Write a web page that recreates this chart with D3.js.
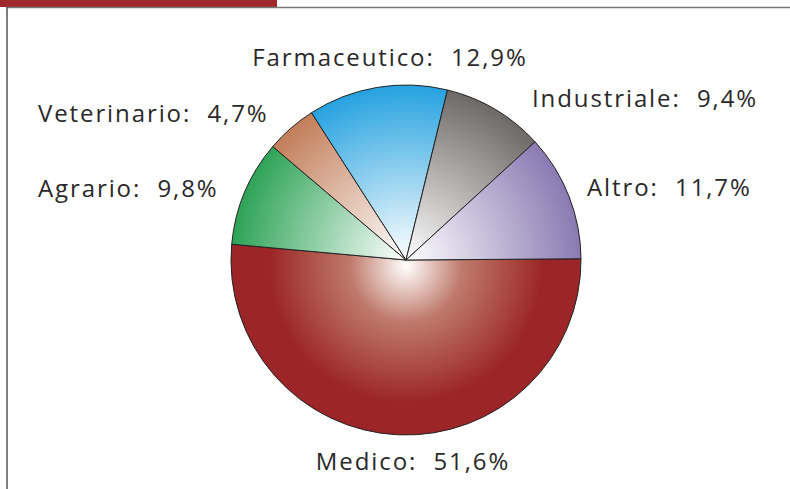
<!DOCTYPE html>
<html>
<head>
<meta charset="utf-8">
<script src="https://cdn.jsdelivr.net/npm/d3@7"></script>
<style>
  body { margin: 0; background: #fff; }
  svg { display: block; }
</style>
</head>
<body>
<script>
// data
var categories = ["Medico", "Agrario", "Veterinario", "Farmaceutico", "Industriale", "Altro"];
var shares = [51.6, 9.8, 4.7, 12.9, 9.4, 11.7];
var labels = ["Medico: 51,6%", "Agrario: 9,8%", "Veterinario: 4,7%", "Farmaceutico: 12,9%", "Industriale: 9,4%", "Altro: 11,7%"];
var colors = ["#9c2627", "#2ea357", "#c27e5a", "#26a2e0", "#6d6966", "#8a7ab2"];

var width = 790, height = 489;
var cx = 406, cy = 260, radius = 175;

// label placement (x, baseline, anchor)
var labelPos = [
  [413, 470, "middle"],
  [38, 197, "start"],
  [38, 122, "start"],
  [390, 66, "middle"],
  [532, 107, "start"],
  [587, 196, "start"]
];

var svg = d3.select("body").append("svg")
  .attr("width", width)
  .attr("height", height);

// header bar and frame
svg.append("rect").attr("x", 0).attr("y", 0).attr("width", 277).attr("height", 7).attr("fill", "#a0282a");
svg.append("line").attr("x1", 6).attr("x2", width).attr("y1", 7.5).attr("y2", 7.5)
  .attr("stroke", "#777").attr("stroke-width", 1.5);
svg.append("line").attr("x1", 7).attr("x2", 7).attr("y1", 7).attr("y2", height)
  .attr("stroke", "#555").attr("stroke-width", 1.5);

var defs = svg.append("defs");
categories.forEach(function(c, i) {
  var g = defs.append("radialGradient")
    .attr("id", "grad" + i)
    .attr("gradientUnits", "userSpaceOnUse")
    .attr("cx", 0).attr("cy", 0).attr("r", radius);
  if (i === 0) {
    // medico: small white highlight, warm mid tone, full red by ~3/4 radius
    g.attr("cy", 6);
    g.append("stop").attr("offset", "0%").attr("stop-color", "#fff");
    g.append("stop").attr("offset", "10%").attr("stop-color", "#ecd6d0");
    g.append("stop").attr("offset", "32%").attr("stop-color", "#bf7a6c");
    g.append("stop").attr("offset", "52%").attr("stop-color", "#b0564c");
    g.append("stop").attr("offset", "78%").attr("stop-color", colors[i]);
    g.append("stop").attr("offset", "100%").attr("stop-color", colors[i]);
  } else {
    g.append("stop").attr("offset", "0%").attr("stop-color", "#fff");
    g.append("stop").attr("offset", "100%").attr("stop-color", colors[i]);
  }
});

var pie = d3.pie()
  .sort(null)
  .value(function(d) { return d; })
  .startAngle(89.6 * Math.PI / 180)
  .endAngle(89.6 * Math.PI / 180 + 2 * Math.PI);

var arc = d3.arc().innerRadius(0).outerRadius(radius);

var chart = svg.append("g").attr("transform", "translate(" + cx + "," + cy + ")");

chart.selectAll("path")
  .data(pie(shares))
  .enter()
  .append("path")
  .attr("d", arc)
  .attr("fill", function(d, i) { return "url(#grad" + i + ")"; })
  .attr("stroke", "#222")
  .attr("stroke-width", 1)
  .attr("stroke-linejoin", "round");

svg.selectAll("text.lbl")
  .data(labels)
  .enter()
  .append("text")
  .attr("class", "lbl")
  .attr("x", function(d, i) { return labelPos[i][0]; })
  .attr("y", function(d, i) { return labelPos[i][1]; })
  .attr("text-anchor", function(d, i) { return labelPos[i][2]; })
  .attr("xml:space", "preserve")
  .style("font-family", "'Open Sans', sans-serif")
  .style("font-size", "24px")
  .style("letter-spacing", "1.9px")
  .style("fill", "#2b2829")
  .text(function(d) { return d.replace(": ", ":  "); });
</script>
</body>
</html>
